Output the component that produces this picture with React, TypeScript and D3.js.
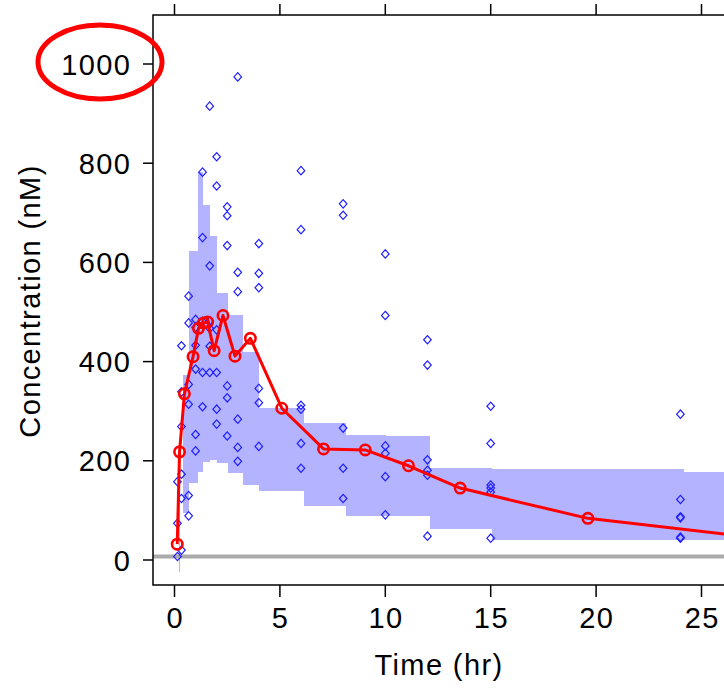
import React from 'react';
import * as d3 from 'd3';

// ---------- data ----------
const xTicks = [0, 5, 10, 15, 20, 25];
const yTicks = [0, 200, 400, 600, 800, 1000];
const lloq = 7;

// binned prediction interval (start/end time, lower/upper conc)
const binStart = [0.19, 0.38, 0.71, 1.11, 1.34, 1.69, 2.01, 2.56, 3.24, 4.03, 6.12, 8.13, 10.05, 12.14, 15.06, 24.15];
const binEnd = [0.25, 0.71, 1.11, 1.34, 1.69, 2.01, 2.56, 3.24, 4.03, 6.12, 8.13, 10.05, 12.14, 15.06, 24.15, 28];
const binLo = [-24, 95, 155, 178, 198, 202, 195, 176, 151, 140, 109, 89, 89, 62, 40, 40];
const binHi = [125, 373, 622, 783, 716, 654, 538, 494, 420, 306, 277, 252, 249, 186, 183, 178];

// median of observed data
const medTime = [0.13, 0.24, 0.47, 0.88, 1.14, 1.38, 1.57, 1.88, 2.3, 2.87, 3.6, 5.09, 7.07, 9.05, 11.1, 13.55, 19.61, 27];
const medConc = [32, 218, 335, 410, 467, 478, 480, 422, 493, 411, 447, 306, 224, 222, 190, 145, 84, 48];

// observations
const obsTimes = [0.14, 0.33, 0.67, 1, 1.33, 1.67, 2, 2.5, 3, 4, 6, 8, 10, 12, 15, 24];
const obsConc = [
  [158, 74, 7],
  [432, 339, 269, 173, 124, 20],
  [532, 478, 354, 314, 130, 89],
  [485, 469, 433, 385, 253, 220],
  [782, 650, 481, 378, 309],
  [915, 593, 482, 467, 431, 378],
  [813, 754, 464, 378, 304, 274],
  [712, 694, 634, 351, 327, 250],
  [974, 580, 541, 284, 227, 199],
  [638, 578, 549, 346, 317, 229],
  [785, 666, 312, 304, 235, 185],
  [718, 695, 266, 185, 124],
  [617, 493, 230, 215, 168, 91],
  [444, 393, 202, 181, 171, 48],
  [310, 235, 151, 145, 137, 44],
  [294, 122, 87, 85, 46, 44],
];

// ---------- layout ----------
const W = 724;
const H = 688;
const box = { left: 153, top: 15, bottom: 585, right: 760 };
const x = d3.scaleLinear().domain([0, 25]).range([174.5, 701.5]);
const y = d3.scaleLinear().domain([0, 1000]).range([560, 64]);
const font = '"Liberation Sans", Arial, Helvetica, sans-serif';
const fs = 29;
const ls = 1.4;

export default function App() {
  const obs: { t: number; c: number }[] = [];
  obsTimes.forEach((t, i) => obsConc[i].forEach((c) => obs.push({ t, c })));
  const medLine = d3
    .line<number>()
    .x((_, i) => x(medTime[i]))
    .y((d) => y(d))(medConc) as string;
  const diamond = 'M0,-4.2L3.8,0L0,4.2L-3.8,0Z';

  return (
    <svg
      width={W}
      height={H}
      style={{ position: 'absolute', left: 0, top: 0, background: '#fff' }}
      fontFamily={font}
    >
      <defs>
        <clipPath id="plot">
          <rect x={box.left} y={box.top} width={box.right - box.left} height={box.bottom - box.top} />
        </clipPath>
      </defs>
      <rect x={0} y={0} width={W} height={H} fill="#fff" />
      <g clipPath="url(#plot)">
        {binStart.map((s, i) => (
          <rect
            key={'b' + i}
            x={x(s)}
            width={x(binEnd[i]) - x(s)}
            y={y(binHi[i])}
            height={y(binLo[i]) - y(binHi[i])}
            fill="#b3b3ff"
            shapeRendering="crispEdges"
          />
        ))}
        <line x1={box.left} x2={box.right} y1={y(lloq)} y2={y(lloq)} stroke="#aaaaaa" strokeWidth={4} />
        {obs.map((d, i) => (
          <path
            key={'o' + i}
            d={diamond}
            transform={`translate(${x(d.t)},${y(d.c)})`}
            fill="none"
            stroke="#1f1fff"
            strokeWidth={1.2}
          />
        ))}
        <path d={medLine} fill="none" stroke="#ff0000" strokeWidth={3} strokeLinejoin="round" />
        {medTime.map((t, i) => (
          <circle key={'m' + i} cx={x(t)} cy={y(medConc[i])} r={5.2} fill="none" stroke="#ff0000" strokeWidth={2.6} />
        ))}
      </g>
      {/* frame */}
      <path
        d={`M${box.right},${box.top}H${box.left}V${box.bottom}H${box.right}`}
        fill="none"
        stroke="#000"
        strokeWidth={1.5}
      />
      {/* x ticks bottom & top */}
      {xTicks.map((t) => (
        <g key={'xt' + t}>
          <line x1={x(t)} x2={x(t)} y1={box.bottom} y2={box.bottom + 12} stroke="#000" strokeWidth={1.5} />
          <line x1={x(t)} x2={x(t)} y1={box.top} y2={box.top - 11} stroke="#000" strokeWidth={1.5} />
          <text x={x(t) + ls / 2} y={628} textAnchor="middle" fontSize={fs} letterSpacing={ls} fill="#000">
            {t}
          </text>
        </g>
      ))}
      {/* y ticks */}
      {yTicks.map((v) => (
        <g key={'yt' + v}>
          <line x1={box.left - 10} x2={box.left} y1={y(v)} y2={y(v)} stroke="#000" strokeWidth={1.5} />
          <text x={130 + ls} y={y(v) + 10.5} textAnchor="end" fontSize={fs} letterSpacing={ls} fill="#000">
            {v}
          </text>
        </g>
      ))}
      <text x={439} y={675} textAnchor="middle" fontSize={fs} letterSpacing={ls} fill="#000">
        Time (hr)
      </text>
      <text
        transform={`translate(40,301) rotate(-90)`}
        textAnchor="middle"
        fontSize={fs}
        letterSpacing={ls}
        fill="#000"
      >
        Concentration (nM)
      </text>
      <ellipse cx={100} cy={62} rx={62} ry={37} fill="none" stroke="#ff0000" strokeWidth={5} />
    </svg>
  );
}
